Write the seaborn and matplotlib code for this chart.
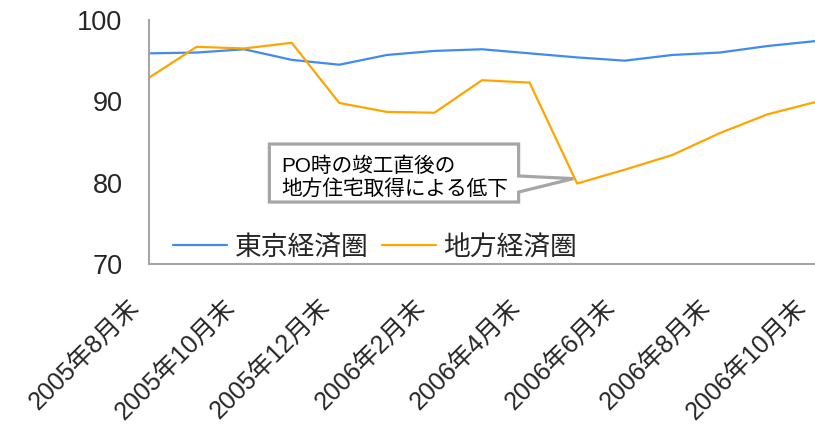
import matplotlib
matplotlib.use("Agg")
import matplotlib.pyplot as plt
import matplotlib.transforms as mtransforms
import seaborn as sns
import pandas as pd
from matplotlib.patches import Polygon

months = ["2005年8月末", "2005年9月末", "2005年10月末", "2005年11月末", "2005年12月末",
          "2006年1月末", "2006年2月末", "2006年3月末", "2006年4月末", "2006年5月末",
          "2006年6月末", "2006年7月末", "2006年8月末", "2006年9月末", "2006年10月末"]
tokyo = [95.9, 96.0, 96.4, 95.1, 94.5, 95.7, 96.2, 96.4, 95.9, 95.4, 95.0, 95.7, 96.0, 96.8, 97.4]
chiho = [92.9, 96.7, 96.5, 97.2, 89.8, 88.7, 88.6, 92.6, 92.3, 79.9, 81.6, 83.4, 86.1, 88.4, 89.9]
series_names = ["東京経済圏", "地方経済圏"]
colors = ["#3f8bf2", "#ffa500"]
yticks = [70, 80, 90, 100]
note = "PO時の竣工直後の\n地方住宅取得による低下"

sns.set_theme(style="white")
plt.rcParams['font.family'] = ['Liberation Sans', 'Noto Sans CJK JP']

df = pd.DataFrame({"idx": list(range(len(months))) * 2,
                   "value": tokyo + chiho,
                   "series": [series_names[0]] * len(months) + [series_names[1]] * len(months)})

fig = plt.figure(figsize=(8.15, 4.26), dpi=100)
ax = fig.add_axes([149 / 815, 162 / 426, 666 / 815, 244 / 426])
sns.lineplot(data=df, x="idx", y="value", hue="series", palette=colors, linewidth=1.6, ax=ax)

ax.set_xlim(0, len(months) - 1)
ax.set_ylim(70, 100)
ax.set_yticks(yticks)
ax.set_yticklabels([str(v) for v in yticks], fontsize=19.5)
ax.set_xticks(range(0, len(months), 2))
ax.set_xticklabels(months[::2], rotation=45, ha="right", va="center",
                   rotation_mode="anchor", fontsize=18)
ax.tick_params(axis="x", pad=28, length=0)
ax.tick_params(axis="y", pad=19, length=0)
shift = mtransforms.ScaledTranslation(-13 / 100, 0, fig.dpi_scale_trans)
for lbl in ax.get_xticklabels():
    lbl.set_transform(lbl.get_transform() + shift)
ax.set_xlabel("")
ax.set_ylabel("")
for s in ["top", "right"]:
    ax.spines[s].set_visible(False)
for s in ["left", "bottom"]:
    ax.spines[s].set_color("#a6a6a6")
    ax.spines[s].set_linewidth(1.5)

leg = ax.legend(loc="lower left", bbox_to_anchor=(0.0, -0.085), ncol=2, frameon=False,
                fontsize=19.3, handlelength=2.0, handletextpad=0.3, columnspacing=0.5)

# callout box pointing at the minimum of 地方経済圏
ti = 9
tv = chiho[ti]
verts = [(2.53, 84.75), (7.77, 84.75), (7.77, 80.82), (ti - 0.08, tv + 0.6),
         (7.77, 78.85), (7.77, 77.62), (2.53, 77.62)]
ax.add_patch(Polygon(verts, closed=True, fc="white", ec="#a6a6a6", lw=2.3, zorder=5))
ax.text(2.78, 80.6, note, fontsize=14.9, ha="left", va="center", zorder=6,
        linespacing=1.25, color="black")

fig.savefig("out.png", dpi=100)
